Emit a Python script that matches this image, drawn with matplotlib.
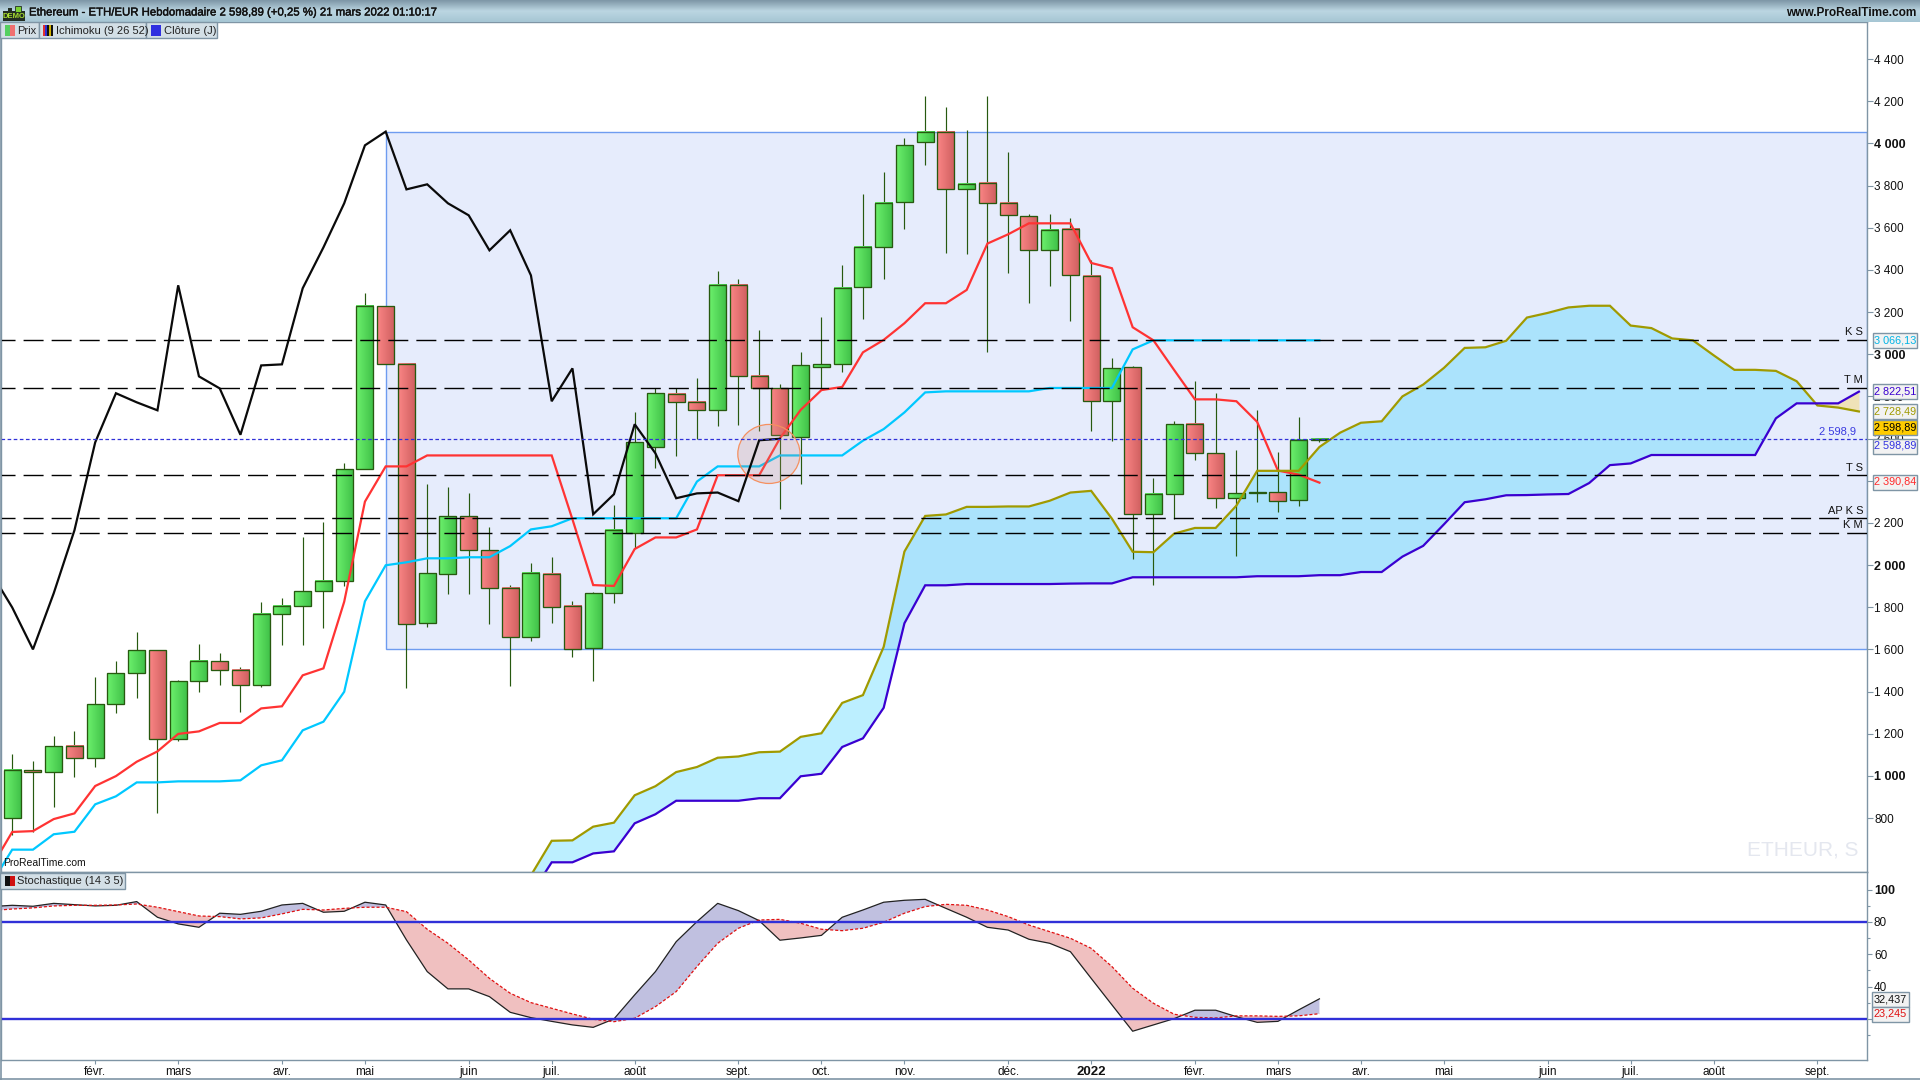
import matplotlib
matplotlib.use("Agg")
import matplotlib.pyplot as plt
import matplotlib.patheffects as pe
import numpy as np
from matplotlib.patches import Rectangle, Ellipse

plt.rcParams['font.family'] = ['Liberation Sans', 'DejaVu Sans']
plt.rcParams['lines.scale_dashes'] = False

# weekly candles, index 0 to 63
opens = [798, 1026, 1017, 1140, 1083, 1339, 1486, 1595, 1173, 1448, 1543, 1501, 1429, 1766, 1804, 1875,
         1923, 2454, 3229, 2954, 1724, 1956, 2231, 2070, 1890, 1657, 1956, 1804, 1608, 1866, 2154, 2562,
         2810, 2772, 2734, 3327, 2895, 2838, 2609, 2938, 2952, 3317, 3507, 3721, 4005, 4056, 3782, 3811,
         3716, 3654, 3493, 3593, 3370, 2777, 2938, 2241, 2336, 2668, 2530, 2317, 2344, 2345, 2307, 2592]
closes = [1026, 1017, 1140, 1083, 1339, 1486, 1595, 1173, 1448, 1543, 1501, 1429, 1766, 1804, 1875, 1923,
          2454, 3229, 2954, 1719, 1961, 2231, 2070, 1890, 1657, 1961, 1799, 1600, 1866, 2165, 2582, 2815,
          2772, 2734, 3327, 2895, 2838, 2618, 2947, 2952, 3313, 3507, 3716, 3991, 4056, 3782, 3806, 3716,
          3659, 3493, 3588, 3374, 2777, 2933, 2241, 2336, 2668, 2530, 2317, 2340, 2344, 2303, 2592, 2598.89]
highs = [1104, 1070, 1189, 1213, 1469, 1545, 1681, 1595, 1455, 1626, 1583, 1516, 1825, 1842, 2133, 2204,
         2483, 3291, 3229, 2954, 2384, 2369, 2340, 2180, 1904, 2008, 2037, 1829, 1874, 2285, 2724, 2838,
         2838, 2887, 3395, 3357, 3115, 2859, 3011, 3177, 3423, 3760, 3863, 4024, 4225, 4171, 4064, 4225,
         3959, 3664, 3664, 3645, 3446, 2981, 2945, 2413, 2684, 2873, 2816, 2546, 2736, 2537, 2703, 2603]
lows = [719, 735, 854, 996, 1044, 1300, 1371, 822, 1167, 1399, 1433, 1304, 1420, 1622, 1622, 1703,
        1902, 2454, 2954, 1418, 1708, 1864, 1864, 1722, 1428, 1641, 1725, 1565, 1452, 1822, 2079, 2462,
        2519, 2596, 2661, 2666, 2637, 2264, 2386, 2834, 2917, 3169, 3359, 3596, 3899, 3482, 3477, 3012,
        3387, 3245, 3325, 3159, 2637, 2590, 2031, 1907, 2220, 2500, 2272, 2045, 2301, 2254, 2282, 2586]

# ichimoku lines, starting at index -1
tenkan = [567, 734, 738, 795, 822, 952, 999, 1067, 1116, 1199, 1211, 1251, 1251, 1320, 1330, 1477, 1510,
          1826, 2301, 2468, 2468, 2520, 2520, 2520, 2520, 2520, 2520, 2520, 2217, 1905, 1901, 2076, 2131,
          2131, 2169, 2426, 2426, 2426, 2601, 2736, 2830, 2845, 3009, 3068, 3147, 3242, 3242, 3305, 3525,
          3569, 3621, 3621, 3621, 3433, 3408, 3128, 3066, 2925, 2786, 2786, 2777, 2679, 2448, 2429, 2390.84]
kijun = [490, 650, 650, 723, 735, 865, 903, 969, 969, 974, 974, 974, 979, 1050, 1074, 1216, 1257,
         1399, 1828, 1999, 2013, 2032, 2032, 2037, 2037, 2090, 2169, 2184, 2222, 2222, 2222, 2222, 2222,
         2222, 2396, 2468, 2468, 2468, 2520, 2520, 2520, 2520, 2590, 2645, 2724, 2819, 2824, 2824, 2824,
         2824, 2824, 2840, 2840, 2840, 2840, 3023, 3066, 3066, 3066, 3066, 3066, 3066, 3066, 3066, 3066.13]
chikou = [1961, 1799, 1600, 1866, 2165, 2582, 2815, 2772, 2734, 3327, 2895, 2838, 2618, 2947, 2952, 3313,
          3507, 3716, 3991, 4056, 3782, 3806, 3716, 3659, 3493, 3588, 3374, 2777, 2933, 2241, 2336, 2668,
          2530, 2317, 2340, 2344, 2303, 2592, 2598.89]

# cloud, starting at index 25
senkou_a = [528, 692, 694, 759, 778, 908, 951, 1018, 1042, 1086, 1092, 1112, 1115, 1185, 1202, 1346, 1383,
            1612, 2064, 2233, 2240, 2276, 2276, 2278, 2278, 2305, 2344, 2352, 2220, 2063, 2061, 2149, 2176,
            2176, 2282, 2447, 2447, 2447, 2560, 2628, 2675, 2682, 2800, 2856, 2935, 3030, 3033, 3064, 3174,
            3196, 3222, 3230, 3230, 3136, 3124, 3075, 3066, 2995, 2926, 2926, 2921, 2872, 2757, 2747, 2728.49]
senkou_b = [437, 590, 590, 632, 642, 775, 818, 882, 882, 882, 882, 894, 894, 998, 1010, 1137, 1178,
            1323, 1724, 1904, 1904, 1910, 1910, 1910, 1910, 1910, 1912, 1913, 1913, 1942, 1942, 1942, 1942,
            1942, 1942, 1947, 1947, 1947, 1952, 1952, 1967, 1967, 2040, 2091, 2193, 2298, 2312, 2331, 2332,
            2335, 2337, 2389, 2474, 2482, 2522, 2522, 2522, 2522, 2522, 2522, 2696, 2767, 2767, 2767, 2822.51]

# stochastic, starting at index -1
stoch_k = [89.5, 90.3, 89.7, 91.5, 90.7, 89.9, 90.3, 92.6, 82.9, 78.8, 76.7, 85.4, 84.7, 86.6, 90.5, 91.5,
           86.0, 86.6, 92.2, 90.5, 68.9, 49.3, 38.6, 38.6, 33.8, 24.1, 20.8, 18.5, 16.3, 14.8, 20.0, 34.9,
           49.3, 67.8, 80.2, 91.5, 87.0, 80.8, 68.7, 70.1, 71.7, 82.9, 87.4, 92.2, 93.4, 94.0, 88.4, 82.9,
           76.7, 75.0, 69.3, 66.8, 61.6, 45.1, 28.7, 12.4, 16.3, 20.2, 25.4, 25.4, 21.4, 17.9, 18.5, 25.6, 32.437]
stoch_d = [87.0, 88.0, 88.7, 89.9, 90.3, 90.3, 90.5, 91.1, 89.1, 86.4, 83.7, 83.3, 81.9, 82.5, 85.0, 87.8,
           87.4, 88.4, 89.1, 89.1, 86.4, 75.5, 66.8, 56.5, 45.1, 35.9, 30.1, 26.6, 23.1, 19.8, 18.3, 20.4,
           27.6, 36.9, 52.4, 66.8, 76.1, 81.2, 81.6, 79.2, 75.5, 74.6, 76.1, 79.8, 85.4, 89.5, 90.9, 90.3,
           87.4, 83.3, 78.1, 74.0, 69.9, 63.7, 52.4, 39.0, 29.7, 22.9, 21.0, 20.6, 21.9, 21.9, 21.6, 21.9, 23.245]

# horizontal levels
level_names = ["K S", "T M", "T S", "AP K S", "K M"]
level_values = [3066, 2838, 2425, 2221, 2150]
last_price = 2598.89

month_pos = [4, 8, 13, 17, 22, 26, 30, 35, 39, 43, 48, 52, 57, 61, 65, 69, 74, 78, 82, 87]
month_labels = ["févr.", "mars", "avr.", "mai", "juin", "juil.", "août", "sept.", "oct.", "nov.", "déc.",
                "2022", "févr.", "mars", "avr.", "mai", "juin", "juil.", "août", "sept."]
price_ticks = [800, 1000, 1200, 1400, 1600, 1800, 2000, 2200, 2400, 2600, 2800,
               3000, 3200, 3400, 3600, 3800, 4000, 4200, 4400]
stoch_ticks = [100, 80, 60, 40, 20]
stoch_minor = [90, 70, 50, 30, 10]

box_labels = ["3 066,13", "2 822,51", "2 728,49", "2 598,89", "2 598,89", "2 390,84"]
box_colors = ["#00b4e6", "#3a00d0", "#a09a00", "black", "#3030e0", "#ff2a2a"]
box_ypos = [340, 391, 411, 427, 446, 482]

W, H = 1920, 1080
GRID = "#7f95a5"


def fx(x):
    return x / W


def fy(y):
    return 1 - y / H


def add_axes_px(left, top, right, bottom):
    return fig.add_axes([fx(left), fy(bottom), (right - left) / W, (bottom - top) / H])


def fig_rect(x0, y0, x1, y1, **kw):
    fig.add_artist(Rectangle((fx(x0), fy(y1)), (x1 - x0) / W, (y1 - y0) / H, transform=fig.transFigure, **kw))


fig = plt.figure(figsize=(19.2, 10.8), dpi=100, facecolor="white")
ax = add_axes_px(1, 22, 1867, 872)
ax2 = add_axes_px(1, 872, 1867, 1060)

xlim = (-0.54, 89.39)
ylim = (544, 4576)

# zone rectangle behind everything
ax.add_patch(Rectangle((18, 1602), xlim[1] - 18, 4056 - 1602, facecolor="#e6ecfc", edgecolor="#6e9cf0",
                       lw=1.0, zorder=1))

# cloud
xc = np.arange(25, 90)
a = np.array(senkou_a)
b = np.array(senkou_b)
ax.fill_between(xc, a, b, where=a >= b, interpolate=True, color="#31d0ff", alpha=0.32, lw=0, zorder=2)
ax.fill_between(xc, a, b, where=a <= b, interpolate=True, color="#efe2b8", lw=0, zorder=2)
ax.plot(xc, a, color="#a09a00", lw=1.6, zorder=5, solid_joinstyle="miter")
ax.plot(xc, b, color="#3a00d0", lw=1.6, zorder=5, solid_joinstyle="miter")

# candles
green_grad = matplotlib.colors.LinearSegmentedColormap.from_list("g", ["#6cf06c", "#3fc048"])
red_grad = matplotlib.colors.LinearSegmentedColormap.from_list("r", ["#fa8585", "#cf5f5f"])
grad = np.linspace(0, 1, 24).reshape(1, -1)
edge = "#27590f"
half = 0.41
for i in range(len(opens)):
    o, c, h, l = opens[i], closes[i], highs[i], lows[i]
    ax.plot([i, i], [l, h], color=edge, lw=0.85, zorder=3, solid_capstyle="butt")
    top, bot = max(o, c), min(o, c)
    cmap = green_grad if c >= o else red_grad
    ax.imshow(grad, extent=[i - half, i + half, bot, top], aspect="auto", cmap=cmap, zorder=3.1,
              interpolation="bilinear")
    ax.add_patch(Rectangle((i - half, bot), 2 * half, max(top - bot, 1), fill=False, edgecolor=edge, lw=0.95,
                           zorder=3.2))

# ichimoku lines
xl = np.arange(-1, 64)
ax.plot(xl, kijun, color="#00c8ff", lw=1.6, zorder=4, solid_joinstyle="miter")
ax.plot(xl, tenkan, color="#ff3333", lw=1.6, zorder=4, solid_joinstyle="miter")
ax.plot(np.arange(-1, 38), chikou, color="#0a0a0a", lw=1.6, zorder=4.5, solid_joinstyle="miter")

# circle marker on the chart
ax.add_patch(Ellipse((36.47, 2527), 3.0, 280, facecolor=(0.80, 0.55, 0.50, 0.22), edgecolor="#f59060", lw=0.9,
                     zorder=4.2))

# levels
for name, val in zip(level_names, level_values):
    ax.plot(xlim, [val, val], color="black", lw=1.0, zorder=6, linestyle=(4.3, (14.4, 5.8)))
    ax.text(89.2, val + 14, name, ha="right", va="bottom", fontsize=8, color="#111111", zorder=7)
ax.plot(xlim, [last_price, last_price], color="#3030d8", lw=0.9, zorder=6, linestyle=(0, (2.6, 1.8)))
ax.text(88.85, last_price + 12, "2 598,9", ha="right", va="bottom", fontsize=8, color="#3a3ae0", zorder=7)

ax.text(-0.44, 585, "ProRealTime.com", ha="left", va="center", fontsize=7.5, color="#111111", zorder=8)
ax.text(86.3, 648, "ETHEUR, S", ha="center", va="center", fontsize=15, color="#e4e7ef", zorder=0.5)

ax.set_xlim(*xlim)
ax.set_ylim(*ylim)
ax.set_xticks([])
ax.yaxis.tick_right()
ax.set_yticks(price_ticks)
ax.set_yticklabels([f"{v:,}".replace(",", " ") for v in price_ticks], fontsize=8.5, color="#111111")
ax.tick_params(axis="y", length=4.3, width=0.8, color=GRID, pad=1)
for lab, v in zip(ax.get_yticklabels(), price_ticks):
    if v % 1000 == 0:
        lab.set_fontweight("bold")
        lab.set_fontsize(9)

# stochastic
x2 = np.arange(-1, 64)
k = np.array(stoch_k)
d = np.array(stoch_d)
ax2.fill_between(x2, k, d, where=k >= d, interpolate=True, color="#c0c0e0", lw=0, zorder=2)
ax2.fill_between(x2, k, d, where=k <= d, interpolate=True, color="#f0c0c0", lw=0, zorder=2)
ax2.plot(x2, k, color="#222222", lw=0.9, zorder=3)
ax2.plot(x2, d, color="#e01010", lw=0.9, zorder=3, linestyle=(0, (2.2, 1.4)))
ax2.axhline(80, color="#3030d8", lw=1.7, zorder=4)
ax2.axhline(20, color="#3030d8", lw=1.7, zorder=4)
ax2.set_xlim(*xlim)
ax2.set_ylim(-5.4, 110.9)
ax2.yaxis.tick_right()
ax2.set_yticks(stoch_ticks)
ax2.set_yticklabels([str(v) for v in stoch_ticks], fontsize=8.5, color="#111111")
ax2.set_yticks(stoch_minor, minor=True)
ax2.tick_params(axis="y", which="major", length=3.5, width=0.8, color=GRID, pad=1.5)
ax2.tick_params(axis="y", which="minor", length=2, width=0.8, color=GRID)
ax2.get_yticklabels()[0].set_fontweight("bold")
ax2.get_yticklabels()[0].set_fontsize(9)
ax2.set_xticks(month_pos)
ax2.set_xticklabels(month_labels, fontsize=8.5, color="#111111")
ax2.tick_params(axis="x", length=3, width=0.8, color=GRID, pad=1.5)
ax2.get_xticklabels()[11].set_fontweight("bold")
ax2.get_xticklabels()[11].set_fontsize(9.5)

for a_ in (ax, ax2):
    for s in a_.spines.values():
        s.set_color(GRID)
        s.set_linewidth(1.0)
    a_.set_facecolor("white")

# frame of the time axis
fig.add_artist(plt.Line2D([fx(0.5), fx(0.5)], [fy(0), fy(1080)], color=GRID, lw=1.2))
fig.add_artist(plt.Line2D([0, 1], [fy(1079), fy(1079)], color=GRID, lw=1.2))

# title bar with a vertical gradient
bar = fig.add_axes([0, fy(22), 1, 22 / H], zorder=10)
bar.imshow(np.linspace(0, 1, 22).reshape(-1, 1), aspect="auto", interpolation="bilinear",
           cmap=matplotlib.colors.LinearSegmentedColormap.from_list("t", ["#7f98a8", "#bcd6e2", "#a6c6d4"]))
bar.axis("off")
fig.text(fx(29), fy(12.5), "Ethereum - ETH/EUR Hebdomadaire 2 598,89 (+0,25 %) 21 mars 2022 01:10:17",
         fontsize=8.2, color="#111111", va="center", ha="left", zorder=11,
         path_effects=[pe.withStroke(linewidth=0.3, foreground="#111111")])
fig.text(fx(1916), fy(12.5), "www.ProRealTime.com", fontsize=8.6, fontweight="bold", color="#111111", va="center",
         ha="right", zorder=11)

# demo icon
fig_rect(3, 11, 25, 21, facecolor="#222d22", edgecolor="none", zorder=11)
fig_rect(8, 8, 12, 12, facecolor="#222d22", edgecolor="none", zorder=11)
fig_rect(15, 6, 21, 12, facecolor="#7ad030", edgecolor="#222d22", lw=0.6, zorder=11)
fig.text(fx(14), fy(16.2), "DEMO", fontsize=5.5, fontweight="bold", color="#a8e030", ha="center", va="center",
         zorder=12)

# indicator tabs
TAB = "#d3dfe6"
for x0, x1, y0, y1 in [(0, 39, 22, 38), (39, 146, 22, 38), (146, 217, 22, 38), (0, 125, 873, 889)]:
    fig_rect(x0, y0, x1, y1, facecolor=TAB, edgecolor=GRID, lw=1.0, zorder=11)
fig_rect(5, 25, 10, 36, facecolor="#54d060", edgecolor="none", zorder=12)
fig_rect(10, 25, 15, 36, facecolor="#f07070", edgecolor="none", zorder=12)
for j, col in enumerate(["#e03030", "#3030d0", "#101010", "#d0b000", "#101010"]):
    fig_rect(43 + 2 * j, 25, 45 + 2 * j, 36, facecolor=col, edgecolor="none", zorder=12)
fig_rect(151, 25, 161, 36, facecolor="#3030e0", edgecolor="none", zorder=12)
fig_rect(5, 876, 10, 886, facecolor="#101010", edgecolor="none", zorder=12)
fig_rect(10, 876, 15, 886, facecolor="#d01010", edgecolor="none", zorder=12)
for txt, x, y in [("Prix", 17.5, 30.5), ("Ichimoku (9 26 52)", 55.5, 30.5), ("Clôture (J)", 164, 30.5),
                  ("Stochastique (14 3 5)", 17, 881.5)]:
    fig.text(fx(x), fy(y), txt, fontsize=8.0, color="#222222", ha="left", va="center", zorder=13)

# value boxes on the right
for txt, col, y in zip(box_labels, box_colors, box_ypos):
    face = "#ffcc00" if col == "black" else "#f2f2f2"
    fig_rect(1873, y - 7.5, 1917, y + 7.5, facecolor=face, edgecolor=GRID, lw=1.0, zorder=11)
    fig.text(fx(1874.5), fy(y), txt, fontsize=7.8, color=col, ha="left", va="center", zorder=12)
for txt, col, y in [("32,437", "#111111", 999), ("23,245", "#e01010", 1014)]:
    fig_rect(1872, y - 7.5, 1909, y + 7.5, facecolor="#f2f2f2", edgecolor=GRID, lw=1.0, zorder=11)
    fig.text(fx(1873.5), fy(y), txt, fontsize=7.8, color=col, ha="left", va="center", zorder=12)

plt.savefig("out.png", dpi=100, facecolor="white")
